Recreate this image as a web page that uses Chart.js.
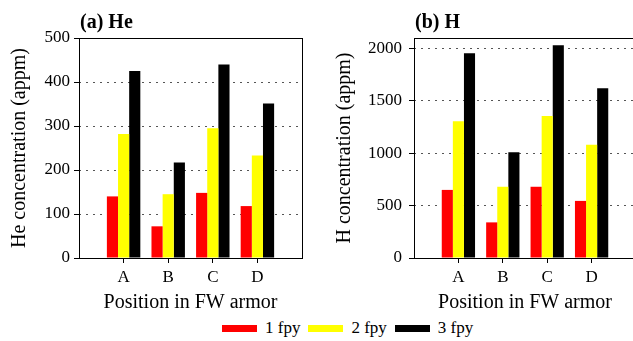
<!DOCTYPE html>
<html>
<head>
<meta charset="utf-8">
<script src="https://cdn.jsdelivr.net/npm/chart.js@4"></script>
<style>
  html, body { margin: 0; padding: 0; background: #fff; overflow: hidden; }
  #wrap { position: relative; width: 633px; height: 341px; overflow: hidden; }
  canvas { position: absolute; top: 0; }
  #heChart { left: 0; }
  #hChart { left: 320px; }
  #legend {
    position: absolute; left: 222px; top: 318px; height: 20px;
    display: flex; align-items: center;
    font: 17px "Liberation Serif", "Times New Roman", serif; color: #000;
  }
  #legend .item { display: flex; align-items: center; margin-right: 8px; }
  #legend .swatch { width: 35px; height: 7px; margin-right: 8px; }
</style>
</head>
<body>
<div id="wrap">
  <canvas id="heChart" width="320" height="315"></canvas>
  <canvas id="hChart" width="320" height="315"></canvas>
  <div id="legend"></div>
</div>
<script>
const positions = ["A", "B", "C", "D"];
const seriesNames = ["1 fpy", "2 fpy", "3 fpy"];
const seriesColors = ["#ff0000", "#ffff00", "#000000"];

// He concentration (appm)
const he1fpy = [140, 72, 148, 118];
const he2fpy = [282, 145, 295, 233];
const he3fpy = [425, 217, 440, 351];
const heTicks = [0, 100, 200, 300, 400, 500];

// H concentration (appm)
const h1fpy = [650, 340, 680, 545];
const h2fpy = [1305, 680, 1355, 1080];
const h3fpy = [1955, 1010, 2030, 1620];
const hTicks = [0, 500, 1000, 1500, 2000];

const serif = '"Liberation Serif", "Times New Roman", serif';
Chart.defaults.font.family = serif;
Chart.defaults.color = "#000";

// empty slot on each side so the groups sit one step in from the frame
const labels = ["", ...positions, ""];
const pad = arr => [null, ...arr, null];

// box around the plot area plus the panel label
const framePlugin = {
  id: "frame",
  afterDatasetsDraw(chart, args, opts) {
    const { ctx, chartArea: a } = chart;
    const l = Math.round(a.left) + 0.5, t = Math.round(a.top) + 0.5;
    const r = Math.round(a.right) + 0.5, b = Math.round(a.bottom) + 0.5;
    ctx.save();
    ctx.strokeStyle = "#000";
    ctx.lineWidth = 1;
    ctx.strokeRect(l, t, r - l, b - t);
    ctx.font = "bold 20px " + serif;
    ctx.fillStyle = "#000";
    ctx.textBaseline = "alphabetic";
    ctx.fillText(opts.label, a.left + 1, 28);
    ctx.restore();
  }
};

function makeChart(id, series, yMax, yTicks, yTitle, panelLabel, sizes) {
  const tickFont = { family: serif, size: 17 };
  const titleFont = { family: serif, size: 20 };
  return new Chart(document.getElementById(id), {
    type: "bar",
    data: {
      labels: labels,
      datasets: series.map((vals, i) => ({
        label: seriesNames[i],
        data: pad(vals),
        backgroundColor: seriesColors[i],
        borderWidth: 0,
        categoryPercentage: 0.75,
        barPercentage: 1.0
      }))
    },
    options: {
      responsive: false,
      animation: false,
      devicePixelRatio: 1,
      layout: { padding: { left: 0, right: sizes.right, top: 38, bottom: 0 } },
      plugins: {
        legend: { display: false },
        tooltip: { enabled: false },
        frame: { label: panelLabel }
      },
      scales: {
        x: {
          offset: false,
          grid: {
            offset: false,
            drawOnChartArea: false,
            tickLength: 5,
            tickColor: c => (c.index === 0 || c.index === labels.length - 1) ? "rgba(0,0,0,0)" : "#000"
          },
          border: { display: false },
          ticks: { padding: 4, font: tickFont, color: "#000", autoSkip: false, maxRotation: 0 },
          title: { display: true, text: "Position in FW armor", font: titleFont, color: "#000", padding: 0 },
          afterFit(scale) { scale.height = 57; }
        },
        y: {
          min: 0,
          max: yMax,
          afterBuildTicks(scale) { scale.ticks = yTicks.map(v => ({ value: v })); },
          ticks: { padding: sizes.tickPad, font: tickFont, color: "#000", callback: v => String(v) },
          grid: {
            color: c => (c.tick && (c.tick.value === 0 || c.tick.value >= yMax)) ? "rgba(0,0,0,0)" : "#555",
            lineWidth: 1,
            tickColor: "#000",
            tickLength: 5
          },
          border: { display: false, dash: [2, 5] },
          title: { display: true, text: yTitle, font: titleFont, color: "#000", padding: { top: sizes.titlePad, bottom: 0 } },
          afterFit(scale) { scale.width = sizes.axisWidth; }
        }
      }
    },
    plugins: [framePlugin]
  });
}

makeChart("heChart", [he1fpy, he2fpy, he3fpy], 500, heTicks, "He concentration (appm)", "(a) He",
  { right: 18, axisWidth: 79, tickPad: 4, titlePad: 8 });
makeChart("hChart", [h1fpy, h2fpy, h3fpy], 2100, hTicks, "H concentration (appm)", "(b) H",
  { right: 4, axisWidth: 94, tickPad: 7, titlePad: 13 });

// shared legend under both panels
const legendEl = document.getElementById("legend");
seriesNames.forEach((name, i) => {
  const item = document.createElement("div");
  item.className = "item";
  const sw = document.createElement("div");
  sw.className = "swatch";
  sw.style.background = seriesColors[i];
  const txt = document.createElement("span");
  txt.textContent = name;
  item.appendChild(sw);
  item.appendChild(txt);
  legendEl.appendChild(item);
});
</script>
</body>
</html>
